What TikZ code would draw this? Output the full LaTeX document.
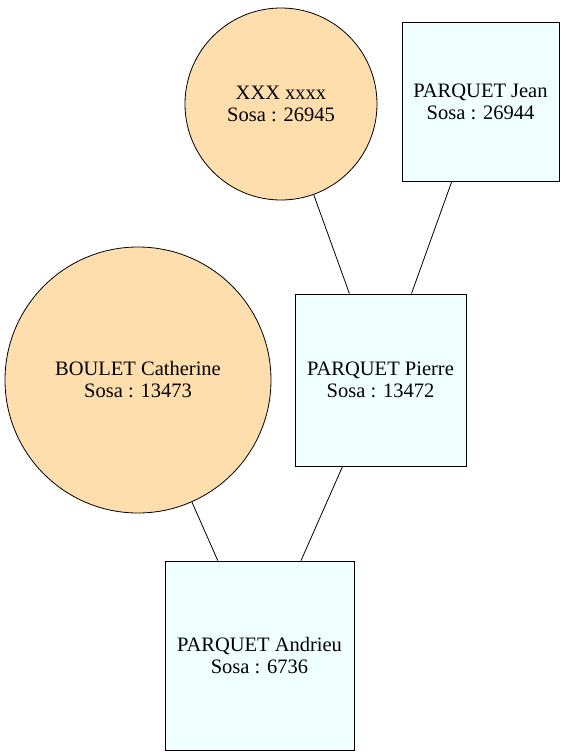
\documentclass[tikz,border=0pt]{standalone}
\usepackage{fontspec}
\setmainfont{Liberation Serif}
\begin{document}
\begin{tikzpicture}[x=1pt, y=-1pt, line width=0.8pt,
    femme/.style={circle, draw, fill=my-orange, inner sep=0pt, align=center},
    homme/.style={rectangle, draw, fill=my-azure, inner sep=0pt, align=center},
    every node/.style={font=\fontsize{20.5}{22}\selectfont}]
    \definecolor{my-orange}{rgb}{1.00,0.87,0.68}
    \definecolor{my-azure}{rgb}{0.94,1.00,1.00}
    \useasboundingbox (0,0) rectangle (566,756);
    % generation 3
    \node[femme, minimum size=192pt] (xxx) at (281,104) {XXX xxxx\\Sosa : 26945};
    \node[homme, minimum width=157pt, minimum height=159pt] (jean) at (480.5,101.5) {PARQUET Jean\\Sosa : 26944};
    % generation 2
    \node[femme, minimum size=266pt] (catherine) at (138,380) {BOULET Catherine\\Sosa : 13473};
    \node[homme, minimum width=171pt, minimum height=172pt] (pierre) at (380.5,380) {PARQUET Pierre\\Sosa : 13472};
    % generation 1
    \node[homme, minimum width=189pt, minimum height=189pt] (andrieu) at (259.5,655.5) {PARQUET Andrieu\\Sosa : 6736};
    \draw (xxx) -- (pierre);
    \draw (jean) -- (pierre);
    \draw (catherine) -- (andrieu);
    \draw (pierre) -- (andrieu);
  \end{tikzpicture}
\end{document}
